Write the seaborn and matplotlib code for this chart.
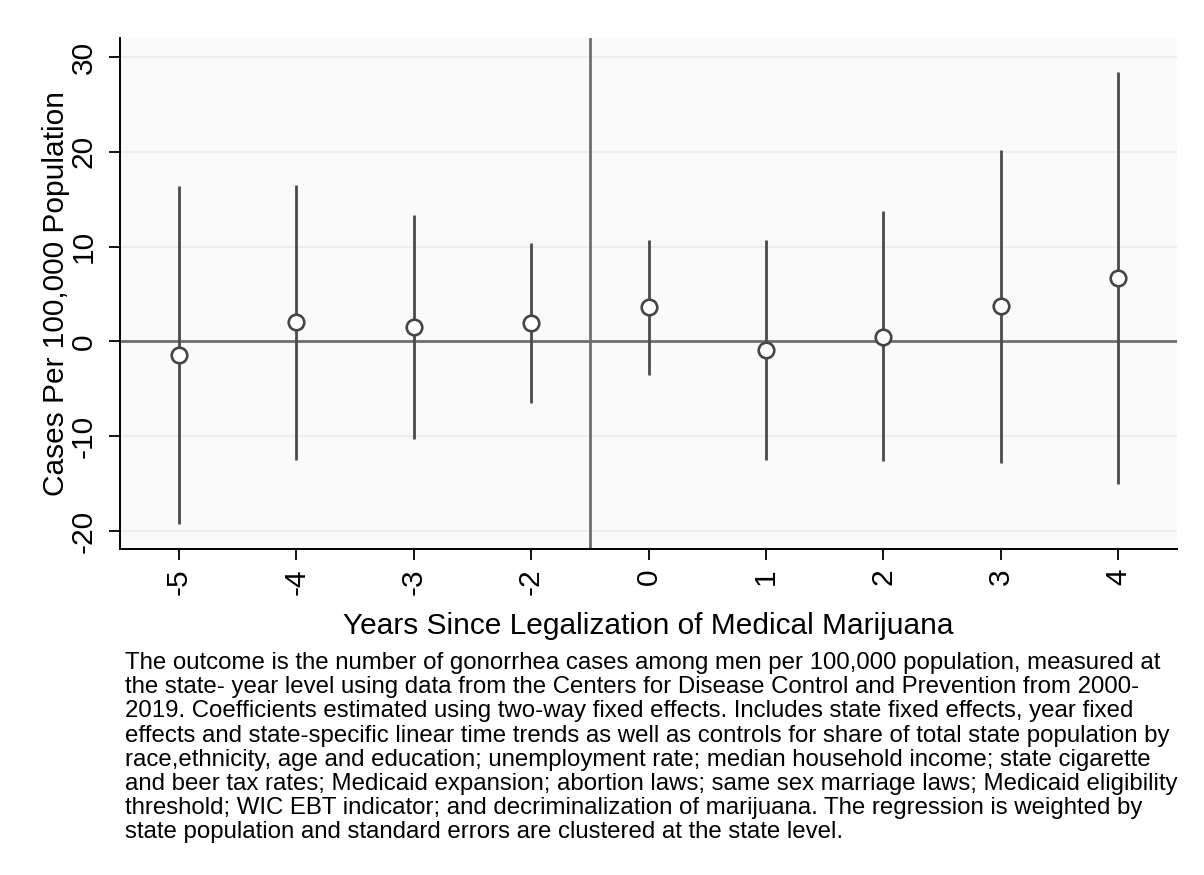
import numpy as np
import pandas as pd
import matplotlib
matplotlib.use("Agg")
import matplotlib.pyplot as plt
import seaborn as sns

# Event-study coefficients with 95% confidence bounds
event_time = ["-5", "-4", "-3", "-2", "0", "1", "2", "3", "4"]
coef = [-1.4, 2.0, 1.5, 1.9, 3.6, -0.9, 0.5, 3.7, 6.7]
ci_low = [-19.3, -12.5, -10.3, -6.5, -3.5, -12.5, -12.6, -12.8, -15.0]
ci_high = [16.4, 16.5, 13.3, 10.4, 10.7, 10.65, 13.7, 20.15, 28.4]
y_ticks = [-20, -10, 0, 10, 20, 30]

x_title = "Years Since Legalization of Medical Marijuana"
y_title = "Cases Per 100,000 Population"
note = (
    "The outcome is the number of gonorrhea cases among men per 100,000 population, measured at\n"
    "the state- year level using data from the Centers for Disease Control and Prevention from 2000-\n"
    "2019. Coefficients estimated using two-way fixed effects. Includes state fixed effects, year fixed\n"
    "effects and state-specific linear time trends as well as controls for share of total state population by\n"
    "race,ethnicity, age and education; unemployment rate; median household income; state cigarette\n"
    "and beer tax rates; Medicaid expansion; abortion laws; same sex marriage laws; Medicaid eligibility\n"
    "threshold; WIC EBT indicator; and decriminalization of marijuana. The regression is weighted by\n"
    "state population and standard errors are clustered at the state level."
)

df = pd.DataFrame({"event_time": event_time, "coef": coef,
                   "ci_low": ci_low, "ci_high": ci_high})
df["pos"] = np.arange(len(df))

sns.set_theme(style="white")
plt.rcParams["font.family"] = ["Liberation Sans", "DejaVu Sans"]

W, H = 1204, 875
fig = plt.figure(figsize=(W / 100, H / 100), dpi=100, facecolor="white")
ax = fig.add_axes([120 / W, 1 - 549 / H, 1057 / W, 511 / H])
ax.set_facecolor("#FAFAFA")

# light horizontal gridlines
ax.yaxis.grid(True, color="#EDEDED", linewidth=1.5, zorder=0)
ax.set_axisbelow(True)

# reference lines: zero effect and the legalization cut-off
ax.axhline(0, color="#6E6E6E", linewidth=2.0, zorder=1)
ax.axvline(3.5, color="#6E6E6E", linewidth=2.0, zorder=1)

# confidence intervals
ax.vlines(df["pos"], df["ci_low"], df["ci_high"], color="#4A4A4A",
          linewidth=2.0, zorder=2)

# point estimates as hollow circles
sns.scatterplot(data=df, x="pos", y="coef", ax=ax, s=125, marker="o",
                color="white", edgecolor="#454545", linewidth=1.9,
                zorder=3, legend=False)

ax.set_xlim(-0.5, 8.5)
ax.set_ylim(-21.9, 32.0)
ax.set_xticks(df["pos"], df["event_time"], rotation=90)
ax.set_yticks(y_ticks, [str(v) for v in y_ticks], rotation=90)
for t in ax.get_yticklabels():
    t.set_va("center")

sns.despine(ax=ax, top=True, right=True)
for side in ("left", "bottom"):
    ax.spines[side].set_color("black")
    ax.spines[side].set_linewidth(1.4)

ax.tick_params(axis="both", which="major", bottom=True, left=True,
               direction="out", length=8, width=1.3, color="black",
               labelsize=21.5, labelcolor="black")
ax.tick_params(axis="y", pad=8)
ax.tick_params(axis="x", pad=6)

ax.set_xlabel(x_title, fontsize=21.5, color="black", labelpad=12)
ax.set_ylabel(y_title, fontsize=21.5, color="black")
ax.yaxis.set_label_coords(-0.047, 0.5)

fig.text(125 / W, 1 - 652 / H, note, ha="left", va="top",
         fontsize=17.3, color="black", linespacing=1.13)

fig.savefig("out.png", dpi=100, facecolor="white")
